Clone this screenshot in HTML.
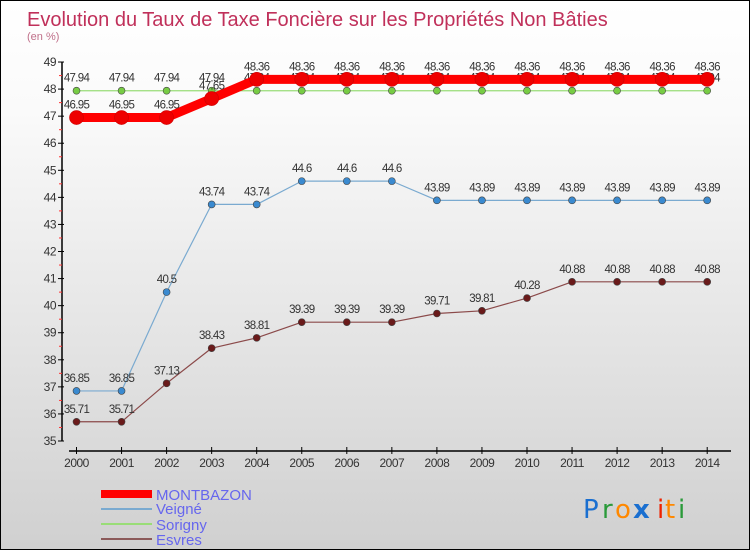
<!DOCTYPE html>
<html><head><meta charset="utf-8"><style>
body{margin:0}
#wrap{width:748px;height:548px;border:1px solid #000;background:linear-gradient(#fff,#fafafa 20%,#d0d0d0);position:relative;overflow:hidden;font-family:"Liberation Sans",sans-serif}
</style></head><body>
<div id="wrap">
<svg id="svg" width="748" height="548" style="position:absolute;left:0;top:0">
<text x="26" y="25" font-size="20" fill="#c0305a">Evolution du Taux de Taxe Foncière sur les Propriétés Non Bâties</text>
<text x="26" y="39" font-size="11" fill="#c0708a">(en %)</text>
<g id="axes"></g><g id="series"></g>
<g>
<rect x="100" y="489" width="51" height="8" fill="#f00"/>
<text x="155" y="499" font-size="15" fill="#6666ee">MONTBAZON</text>
<rect x="100" y="507" width="51" height="2" fill="#7aaad0"/>
<text x="155" y="513" font-size="15" fill="#6666ee">Veigné</text>
<rect x="100" y="522" width="51" height="2" fill="#99dd77"/>
<text x="155" y="529" font-size="15" fill="#6666ee">Sorigny</text>
<rect x="100" y="537" width="51" height="2" fill="#8b5a5a"/>
<text x="155" y="544" font-size="15" fill="#6666ee">Esvres</text>
</g>
<g font-size="26" font-family="DejaVu Sans, sans-serif">
<text x="582" y="517" fill="#1a6fd0">P</text><text x="601" y="517" fill="#2a9a3a">r</text><text x="614" y="517" fill="#ff8800">o</text><text x="632" y="517" fill="#1a6fd0" font-weight="bold">x</text><text x="656" y="517" fill="#ee2200">i</text><text x="664" y="517" fill="#ff8800">t</text><text x="677" y="517" fill="#2a9a3a">i</text>
</g>
</svg>
</div>
<script>
const years=["2000","2001","2002","2003","2004","2005","2006","2007","2008","2009","2010","2011","2012","2013","2014"];
const montbazon=[46.95,46.95,46.95,47.65,48.36,48.36,48.36,48.36,48.36,48.36,48.36,48.36,48.36,48.36,48.36];
const veigne=[36.85,36.85,40.5,43.74,43.74,44.6,44.6,44.6,43.89,43.89,43.89,43.89,43.89,43.89,43.89];
const sorigny=[47.94,47.94,47.94,47.94,47.94,47.94,47.94,47.94,47.94,47.94,47.94,47.94,47.94,47.94,47.94];
const esvres=[35.71,35.71,37.13,38.43,38.81,39.39,39.39,39.39,39.71,39.81,40.28,40.88,40.88,40.88,40.88];
const yTicks=[35,36,37,38,39,40,41,42,43,44,45,46,47,48,49];
const NS="http://www.w3.org/2000/svg";
function X(i){return 75.5+i*45.05;}
function Y(v){return 440-(v-35)*27.07;}
function mk(t,a,p){const e=document.createElementNS(NS,t);for(const k in a)e.setAttribute(k,a[k]);p.appendChild(e);return e;}
const ax=document.getElementById('axes'),sg=document.getElementById('series');
let l=mk('line',{x1:61,y1:Y(49),x2:61,y2:Y(35),stroke:'#000','stroke-width':1.5},ax);


yTicks.forEach(v=>{mk('line',{x1:57,y1:Y(v),x2:63,y2:Y(v),stroke:'#000'},ax);
 if(v<49)mk('line',{x1:58,y1:Y(v+0.5),x2:61,y2:Y(v+0.5),stroke:'#f33'},ax);
 const t=mk('text',{x:55,y:Y(v)+4,'font-size':12,'text-anchor':'end',fill:'#333','letter-spacing':'-0.5'},ax);t.textContent=v;
 
 });
l=mk('line',{x1:68,y1:450,x2:730,y2:450,stroke:'#000','stroke-width':1.5},ax);


years.forEach((y,i)=>{mk('line',{x1:X(i),y1:446,x2:X(i),y2:453,stroke:'#000'},ax);
 const t=mk('text',{x:X(i),y:466,'font-size':12,'text-anchor':'middle',fill:'#333','letter-spacing':'-0.5'},ax);t.textContent=y;
 
 });
function series(name,data,color,w,r,fill,lab){
 const g=mk('g',{},sg);
 
 
 mk('polyline',{points:data.map((v,i)=>X(i)+','+Y(v)).join(' '),fill:'none',stroke:color,'stroke-width':w,'stroke-linejoin':'round'},g);
 data.forEach((v,i)=>{const c=mk('circle',{cx:X(i),cy:Y(v),r:r,fill:fill,stroke:fill=='#e00'?'#c00':'#444','stroke-width':0.6},g);
  
  
  const t=mk('text',{x:X(i),y:Y(v)-9,'font-size':11.5,'text-anchor':'middle',fill:'#333','letter-spacing':'-0.7'},g);t.textContent=v;
  
  });
}
series('esvres',esvres,'#8b4a4a',1.2,3.5,'#6a1a1a');
series('veigne',veigne,'#7aaad0',1.2,3.5,'#3a8ad0');
series('sorigny',sorigny,'#99dd77',1.2,3.5,'#77cc44');
series('montbazon',montbazon,'#f00',9,7,'#e00');
</script>
</body></html>
